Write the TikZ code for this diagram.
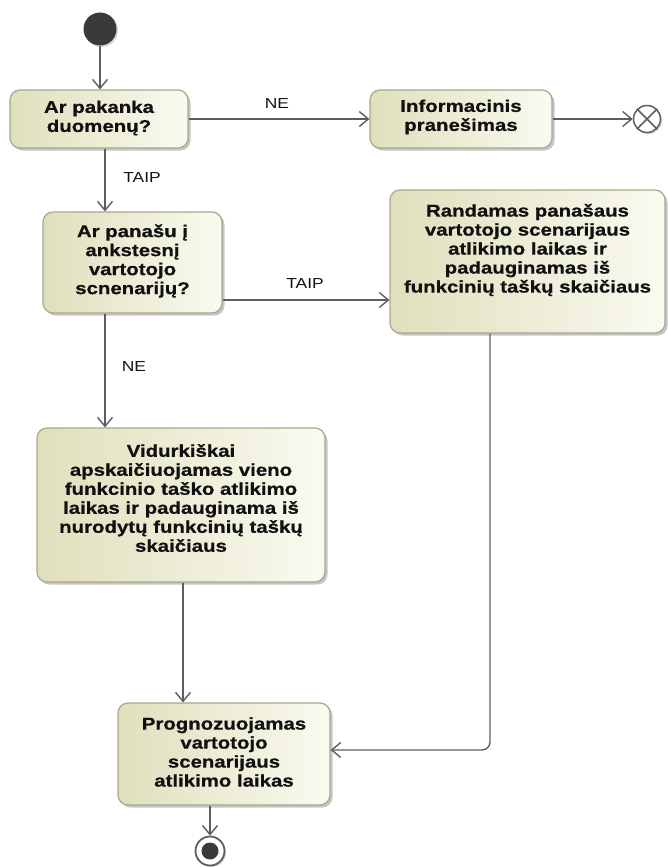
\documentclass[tikz,border=0pt]{standalone}
\usepackage{fontspec}
\setmainfont{Liberation Sans}[FakeStretch=1.2, BoldFeatures={FakeBold=0.8}]
\usetikzlibrary{arrows.meta,shadows,calc}
\definecolor{linec}{HTML}{5E5E5E}
\definecolor{boxl}{HTML}{E0DFBC}
\definecolor{boxr}{HTML}{FAFAF1}
\definecolor{boxb}{HTML}{A8A88C}
\definecolor{txt}{HTML}{111111}
\definecolor{startc}{HTML}{3A3A3A}
\begin{document}
\begin{tikzpicture}[x=1pt,y=-1pt,
  boxshape/.style={draw=boxb, line width=1.2pt, rounded corners=10pt,
    left color=boxl, right color=boxr,
    drop shadow={shadow xshift=2.5pt, shadow yshift=-2.5pt, fill=black!45, opacity=.5},
    inner sep=0pt},
  boxtext/.style={align=center, font=\fontsize{17}{19}\selectfont\bfseries, text=txt, inner sep=0pt},
  flow/.style={draw=linec, line width=1.4pt, -{Straight Barb[length=9pt,width=15pt,line width=1.4pt]}},
  lbl/.style={font=\fontsize{14.5}{16}\selectfont, text=txt, inner sep=0pt},
]
\useasboundingbox (0,0) rectangle (668,867);

% start node
\node[circle, fill=startc, minimum size=33pt, inner sep=0pt,
  drop shadow={shadow xshift=1.5pt, shadow yshift=-1.5pt, fill=black!40, opacity=.4}] (start) at (100,29) {};

% boxes
\node[boxshape, minimum width=178pt, minimum height=58pt] (b1) at (99,119) {};
\node[boxtext] (b1t) at (99,118) {Ar pakanka\\duomenų?};

\node[boxshape, minimum width=182pt, minimum height=58pt] (info) at (461,119) {};
\node[boxtext] (infot) at (461,117) {Informacinis\\pranešimas};

\node[boxshape, minimum width=179pt, minimum height=101pt] (b2) at (132.5,262.5) {};
\node[boxtext] (b2t) at (132.5,261) {Ar panašu į\\ankstesnį\\vartotojo\\scnenarijų?};

\node[boxshape, minimum width=275pt, minimum height=143pt] (b3) at (527.5,261.5) {};
\node[boxtext] (b3t) at (527.5,250) {Randamas panašaus\\vartotojo scenarijaus\\atlikimo laikas ir\\padauginamas iš\\funkcinių taškų skaičiaus};

\node[boxshape, minimum width=288pt, minimum height=154pt] (b4) at (181,505) {};
\node[boxtext] (b4t) at (181,498) {Vidurkiškai\\apskaičiuojamas vieno\\funkcinio taško atlikimo\\laikas ir padauginama iš\\nurodytų funkcinių taškų\\skaičiaus};

\node[boxshape, minimum width=212pt, minimum height=102pt] (b5) at (224,754) {};
\node[boxtext] (b5t) at (224,752) {Prognozuojamas\\vartotojo\\scenarijaus\\atlikimo laikas};

% flow final node
\node[circle, draw=linec, line width=1.5pt, fill=white, minimum size=27pt, inner sep=0pt,
  drop shadow={shadow xshift=1.5pt, shadow yshift=-1.5pt, fill=black!40, opacity=.4}] (ff) at (647,119) {};
\draw[linec, line width=1.5pt] (ff.north west) -- (ff.south east) (ff.north east) -- (ff.south west);

% final node
\node[circle, draw=linec, line width=1.8pt, fill=white, minimum size=29pt, inner sep=0pt,
  drop shadow={shadow xshift=1.5pt, shadow yshift=-1.5pt, fill=black!40, opacity=.4}] (fin) at (210,851) {};
\node[circle, fill=startc, minimum size=17pt, inner sep=0pt] (findot) at (fin) {};

% helper coordinates
\coordinate (c1) at (105,0);
\coordinate (c2) at (0,300);
\coordinate (c3) at (183,0);
\coordinate (c4) at (490,0);
\coordinate (c5) at (0,750);

% connectors
\draw[flow] (start.south) -- (start |- b1.north);
\draw[flow] (b1.east) -- (info.west);
\draw[flow] (info.east) -- (ff.west);
\draw[flow] (b1.south -| c1) -- (b2.north -| c1);
\draw[flow] (b2.east |- c2) -- (b3.west |- c2);
\draw[flow] (b2.south -| c1) -- (b4.north -| c1);
\draw[flow] (b4.south -| c3) -- (b5.north -| c3);
\draw[flow, rounded corners=8pt] (b3.south -| c4) |- (b5.east |- c5);
\draw[flow] (b5.south -| fin) -- (fin.north);

% labels
\node[lbl] (l1) at (277,104) {NE};
\node[lbl] (l2) at (142,178) {TAIP};
\node[lbl] (l3) at (305,284) {TAIP};
\node[lbl] (l4) at (134,367) {NE};
\end{tikzpicture}
\end{document}
